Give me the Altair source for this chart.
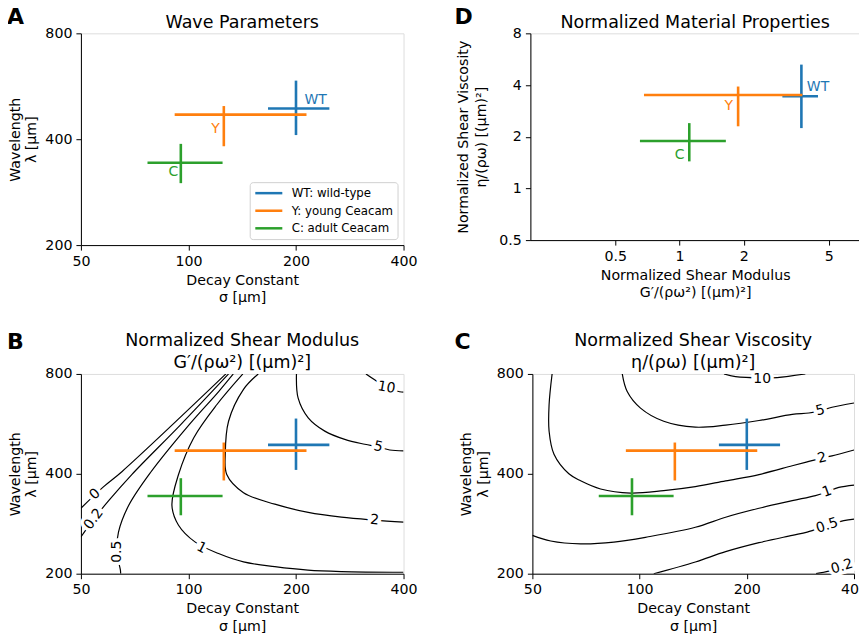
import altair as alt
import pandas as pd

FONT = "DejaVu Sans"
FS_TICK = 14.2
FS_TITLE = 17.5
FS_LAB = 14

# ---------------- series (crosses) ----------------
NAMES = ["WT: wild-type", "Y: young Ceacam", "C: adult Ceacam"]
SHORT = ["WT", "Y", "C"]
COLORS = ["#1f77b4", "#ff7f0e", "#2ca02c"]

# decay constant sigma [um] and wavelength lambda [um]
SIGMA_C = [200, 125.6, 95.2]
SIGMA_LO = [167, 91.5, 76.8]
SIGMA_HI = [248, 214, 124.6]
LAMBDA_C = [489, 470, 343]
LAMBDA_LO = [411, 382, 300]
LAMBDA_HI = [587, 497, 388]
A_LABEL_SIGMA = [227, 119, 90.7]
A_LABEL_LAMBDA = [516, 427, 322]

# normalized material properties
G_C = [3.72, 1.88, 1.11]
G_LO = [3.03, 0.681, 0.652]
G_HI = [4.45, 3.76, 1.647]
ETA_C = [3.44, 3.50, 1.89]
ETA_LO = [2.245, 2.30, 1.437]
ETA_HI = [5.26, 3.92, 2.40]
D_LABEL_G = [4.45, 1.70, 1.0]
D_LABEL_ETA = [3.92, 3.0, 1.57]

# ---------------- contour lines, panel B (G') ----------------
B0_S = [50, 57.9, 65.1, 127.3]
B0_L = [315, 366, 406, 800]
B02_S = [50, 54.3, 59.8, 69.4, 95, 129.5]
B02_L = [258, 292, 332, 398, 562, 800]
B05_S = [64.6, 64.5, 63, 63.7, 68, 78.2, 100.5, 121.5, 133.5]
B05_L = [200, 205, 233, 267, 321, 403, 563, 708, 800]
B1_S = [142, 120, 103.5, 93.8, 89.9, 93.8, 104.5, 121.4, 142.6, 174.5, 216, 268, 400]
B1_L = [800, 646, 514, 398, 321, 280, 249, 230, 217, 210, 205, 203, 202]
B2_S = [156.8, 142.6, 129.5, 126.8, 128, 142.6, 174.5, 216.4, 268, 332, 400]
B2_L = [800, 719, 576, 459.5, 398, 351, 324, 306, 296, 290, 286]
B5_S = [200.6, 202.8, 216.4, 240.8, 273.9, 311.6, 339.6, 366, 400]
B5_L = [800, 676, 590, 538, 508, 491, 482, 472, 469]
B10_S = [314, 332, 358, 390, 400]
B10_L = [800, 768, 728, 707, 705]
B_LEVELS = ["0", "0.2", "0.5", "1", "2", "5", "10"]
B_LINES_S = [B0_S, B02_S, B05_S, B1_S, B2_S, B5_S, B10_S]
B_LINES_L = [B0_L, B02_L, B05_L, B1_L, B2_L, B5_L, B10_L]
B_LAB_S = [54.8, 54.3, 63, 108.8, 332, 339.6, 358]
B_LAB_L = [347, 292, 233, 239, 290, 482, 728]
B_LAB_ANG = [317, 307, 270, 27, 5, 13, 10]

# ---------------- contour lines, panel C (eta) ----------------
C02_S = [313, 340, 370, 400]
C02_L = [200, 203.5, 209, 214]
C05_S = [109.6, 143.4, 174.4, 216.4, 268.3, 295.5, 336, 374.5, 400]
C05_L = [200, 217, 233, 248, 261, 267, 279, 289, 292]
C1_S = [50, 56.3, 68.3, 84.7, 105, 143.4, 174.4, 216.4, 268.3, 311.8, 336, 362.6, 400]
C1_L = [261, 251, 246, 249, 258, 276, 296, 315, 332, 344, 353, 364, 370]
C2_S = [56.8, 55.7, 55.7, 57.5, 63.3, 68.3, 77.7, 94.3, 116.9, 143.4, 174.4, 216.4, 268.3, 298.8, 325.6, 347, 400]
C2_L = [800, 646, 538, 458, 400, 381, 360, 350, 356, 366, 381, 398, 423, 436, 446, 453, 472]
C5_S = [89.4, 92.3, 100.6, 116.9, 143.4, 174.4, 216.4, 268.3, 298.8, 322, 347, 400]
C5_L = [800, 708, 631, 576, 553, 561, 579, 604, 610, 620, 635, 654]
C10_S = [172.6, 186, 221, 243.5, 292]
C10_L = [800, 785, 778, 780, 800]
C_LEVELS = ["0.2", "0.5", "1", "2", "5", "10"]
C_LINES_S = [C02_S, C05_S, C1_S, C2_S, C5_S, C10_S]
C_LINES_L = [C02_L, C05_L, C1_L, C2_L, C5_L, C10_L]
C_LAB_S = [370, 336, 336, 325.6, 322, 221]
C_LAB_L = [210, 279, 353, 446, 620, 772]
C_LAB_ANG = [343, 342, 340, 346, 346, 0]

SIGMA_TICKS = [50, 100, 200, 400]
LAMBDA_TICKS = [200, 400, 800]
G_TICKS = [0.5, 1, 2, 5]
ETA_TICKS = [0.5, 1, 2, 4, 8]


def make_axis(values, title, min_extent=None, title_pad=5, line_h=17.5):
    kw = dict(values=values, title=title, format="~g", grid=False, tickSize=5,
              tickWidth=1, tickColor="black", domainColor="black", domainWidth=1,
              labelColor="black", titleColor="black", labelFont=FONT, titleFont=FONT,
              labelFontSize=FS_TICK, titleFontSize=FS_TICK, titleFontWeight="normal",
              labelFlush=False, labelOverlap=False, labelPadding=4, titlePadding=title_pad,
              titleLineHeight=line_h)
    if min_extent is not None:
        kw["minExtent"] = min_extent
        kw["maxExtent"] = min_extent
    return alt.Axis(**kw)


X_SIG = alt.Scale(type="log", domain=[50, 400], nice=False)
Y_LAM = alt.Scale(type="log", domain=[200, 800], nice=False)
X_G = alt.Scale(type="log", domain=[0.2, 7], nice=False)
Y_ETA = alt.Scale(type="log", domain=[0.5, 8], nice=False)

AX_SIG = make_axis(SIGMA_TICKS, ["Decay Constant", "σ [μm]"])
AX_LAM = make_axis(LAMBDA_TICKS, ["Wavelength", "λ [μm]"], 37, 5, 16.5)
AX_G = make_axis(G_TICKS, ["Normalized Shear Modulus", "G′/(ρω²) [(μm)²]"])
AX_ETA = make_axis(ETA_TICKS, ["Normalized Shear Viscosity", "η/(ρω) [(μm)²]"], 37, 5, 18)


def cross_frame(cx, xlo, xhi, cy, ylo, yhi):
    rows = []
    for i in range(3):
        rows.append(dict(name=NAMES[i], col=COLORS[i], x=xlo[i], x2=xhi[i], y=cy[i], y2=cy[i]))
        rows.append(dict(name=NAMES[i], col=COLORS[i], x=cx[i], x2=cx[i], y=ylo[i], y2=yhi[i]))
    return pd.DataFrame(rows)


def cross_layer(df, xs, ys, ax, ay, with_legend):
    if with_legend:
        color = alt.Color("name:N", scale=alt.Scale(domain=NAMES, range=COLORS),
                          legend=alt.Legend(orient="bottom-right", title=None,
                                            symbolType="M-1,0L4,0",
                                            symbolSize=117, symbolStrokeWidth=2.5,
                                            labelFontSize=11.8, labelFont=FONT, labelColor="black",
                                            padding=4, strokeColor="#d0d0d0", fillColor="white",
                                            cornerRadius=3, offset=6, rowPadding=3.6, labelOffset=24))
    else:
        color = alt.Color("col:N", scale=None)
    return alt.Chart(df).mark_rule(strokeWidth=2.6).encode(
        x=alt.X("x:Q", scale=xs, axis=ax), x2="x2:Q",
        y=alt.Y("y:Q", scale=ys, axis=ay), y2="y2:Q",
        color=color)


def text_layer(xv, yv, xs, ys, ax, ay):
    df = pd.DataFrame({"x": xv, "y": yv, "t": SHORT, "col": COLORS})
    return alt.Chart(df).mark_text(fontSize=14, font=FONT, baseline="middle").encode(
        x=alt.X("x:Q", scale=xs, axis=ax), y=alt.Y("y:Q", scale=ys, axis=ay),
        text="t:N", color=alt.Color("col:N", scale=None))


def letter(ch, dx, dy):
    return alt.Chart(pd.DataFrame({"t": [ch]})).mark_text(
        align="left", baseline="alphabetic", fontSize=22, fontWeight="bold", font=FONT,
        color="black").encode(text="t:N", x=alt.value(dx), y=alt.value(dy))


def contour_layers(levels, ls, ll, lab_s, lab_l, lab_ang):
    rows = []
    for lv, ss, lls in zip(levels, ls, ll):
        for i, (s, l) in enumerate(zip(ss, lls)):
            rows.append(dict(lvl=lv, s=s, l=l, i=i))
    df = pd.DataFrame(rows)
    lines = alt.Chart(df).mark_line(color="black", strokeWidth=1.2, interpolate="catmull-rom", clip=True).encode(
        x=alt.X("s:Q", scale=X_SIG, axis=AX_SIG), y=alt.Y("l:Q", scale=Y_LAM, axis=AX_LAM),
        detail="lvl:N", order="i:Q")
    lab = pd.DataFrame({"t": levels, "s": lab_s, "l": lab_l, "ang": lab_ang})
    halo = alt.Chart(lab).mark_text(fontSize=FS_LAB, font=FONT, fill="white", stroke="white",
                                     strokeWidth=7, baseline="middle").encode(
        x=alt.X("s:Q", scale=X_SIG, axis=AX_SIG), y=alt.Y("l:Q", scale=Y_LAM, axis=AX_LAM),
        text="t:N", angle=alt.Angle("ang:Q", scale=None))
    txt = alt.Chart(lab).mark_text(fontSize=FS_LAB, font=FONT, color="black", baseline="middle").encode(
        x=alt.X("s:Q", scale=X_SIG, axis=AX_SIG), y=alt.Y("l:Q", scale=Y_LAM, axis=AX_LAM),
        text="t:N", angle=alt.Angle("ang:Q", scale=None))
    return [lines, halo, txt]


def title(text, offset):
    return alt.TitleParams(text=text, fontSize=FS_TITLE, font=FONT, fontWeight="normal",
                           color="black", frame="group", anchor="middle", offset=offset, lineHeight=22)


cross_sl = cross_frame(SIGMA_C, SIGMA_LO, SIGMA_HI, LAMBDA_C, LAMBDA_LO, LAMBDA_HI)
cross_ge = cross_frame(G_C, G_LO, G_HI, ETA_C, ETA_LO, ETA_HI)

panel_a = alt.layer(
    cross_layer(cross_sl, X_SIG, Y_LAM, AX_SIG, AX_LAM, True),
    text_layer(A_LABEL_SIGMA, A_LABEL_LAMBDA, X_SIG, Y_LAM, AX_SIG, AX_LAM),
    letter("A", -74, -9),
).properties(width=323, height=212, title=title("Wave Parameters", -25))

panel_d = alt.layer(
    cross_layer(cross_ge, X_G, Y_ETA, AX_G, AX_ETA, False),
    text_layer(D_LABEL_G, D_LABEL_ETA, X_G, Y_ETA, AX_G, AX_ETA),
    letter("D", -76, -9),
).properties(width=330, height=207, title=title("Normalized Material Properties", -25))

panel_b = alt.layer(
    *contour_layers(B_LEVELS, B_LINES_S, B_LINES_L, B_LAB_S, B_LAB_L, B_LAB_ANG),
    cross_layer(cross_sl, X_SIG, Y_LAM, AX_SIG, AX_LAM, False),
    letter("B", -74, -25),
).properties(width=323, height=200,
             title=title(["Normalized Shear Modulus", "G′/(ρω²) [(μm)²]"], -41))

panel_c = alt.layer(
    *contour_layers(C_LEVELS, C_LINES_S, C_LINES_L, C_LAB_S, C_LAB_L, C_LAB_ANG),
    cross_layer(cross_sl, X_SIG, Y_LAM, AX_SIG, AX_LAM, False),
    letter("C", -78, -25),
).properties(width=322, height=200,
             title=title(["Normalized Shear Viscosity", "η/(ρω) [(μm)²]"], -41))

top = alt.hconcat(panel_a, panel_d, spacing=35).resolve_scale(color="independent").resolve_legend(color="independent")
bottom = alt.hconcat(panel_b, panel_c, spacing=35).resolve_scale(color="independent").resolve_legend(color="independent")

chart = alt.vconcat(top, bottom, spacing=24).resolve_scale(color="independent").resolve_legend(
    color="independent").properties(
    padding={"left": -2, "top": -3, "right": -10, "bottom": 0}, background="white"
).configure_view(stroke="black", strokeWidth=1).configure(font=FONT)

chart.save("out.html", embed_options={"renderer": "svg", "actions": False})
